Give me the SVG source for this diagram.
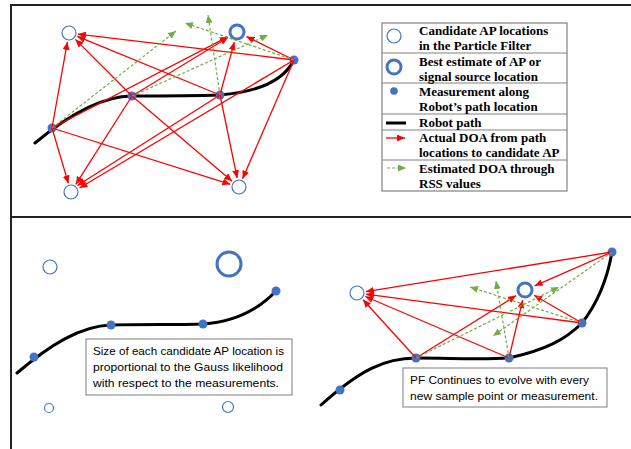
<svg xmlns="http://www.w3.org/2000/svg" width="631" height="449" viewBox="0 0 631 449">
<defs>
<marker id="ar" markerUnits="userSpaceOnUse" markerWidth="8" markerHeight="7" refX="8" refY="3.5" orient="auto"><path d="M0,0 L8,3.5 L0,7 z" fill="#ff0000"/></marker>
<marker id="ag" markerUnits="userSpaceOnUse" markerWidth="8" markerHeight="7" refX="8" refY="3.5" orient="auto"><path d="M0,0 L8,3.5 L0,7 z" fill="#70ad47"/></marker>
</defs>
<style>
.frame{stroke:#222;stroke-width:2;fill:none}
.path{stroke:#000;stroke-width:3;fill:none;stroke-linecap:round}
.cand{fill:#fff;stroke:#4472c4;stroke-width:1.2}
.best{fill:#fff;stroke:#4472c4;stroke-width:3}
.dot{fill:#4472c4}
.red{stroke:#ff0000;stroke-width:1.3;fill:none;marker-end:url(#ar)}
.grn{stroke:#70ad47;stroke-width:1.2;fill:none;stroke-dasharray:3 2;marker-end:url(#ag)}
.leg{font-family:"Liberation Serif","Times New Roman",serif;font-weight:bold;font-size:13px;fill:#000}
.box{fill:#fff;stroke:#7f7f7f;stroke-width:1}
.note{font-family:"Liberation Sans",Arial,sans-serif;font-size:11px;fill:#000}
</style>
<rect width="631" height="449" fill="#fff"/>
<g id="frame">
<line class="frame" x1="11" y1="5" x2="631" y2="5"/>
<line class="frame" x1="11" y1="4" x2="11" y2="449"/>
<line class="frame" x1="11" y1="217" x2="631" y2="217"/>
</g>

<!-- Top panel -->
<g id="top-path"><path class="path" d="M35,143 C65,118 100,96 132,96 C170,96 190,96 220,95 C258,92 284,80 294,60"/></g>
<g id="top-points">
<circle class="dot" cx="52" cy="128" r="4.5"/>
<circle class="dot" cx="132" cy="96" r="4.5"/>
<circle class="dot" cx="220" cy="95" r="4.5"/>
<circle class="dot" cx="294" cy="60" r="4.5"/>
</g>
<g id="top-candidates">
<circle id="tl" class="cand" cx="69" cy="33" r="7"/>
<circle id="best-top" class="best" cx="237" cy="32" r="7"/>
<circle id="bl" class="cand" cx="71" cy="192" r="7"/>
<circle id="br" class="cand" cx="239" cy="187" r="7"/>
</g>
<g id="top-connectors">
<line class="red" x1="52" y1="128" x2="67.4" y2="41.9"/>
<line class="red" x1="132" y1="96" x2="75.4" y2="39.4"/>
<line class="red" x1="220" y1="95" x2="77.3" y2="36.4"/>
<line class="red" x1="294" y1="60" x2="77.9" y2="34.1"/>
<line class="red" x1="52" y1="128" x2="227.7" y2="36.8"/>
<line class="red" x1="132" y1="96" x2="228" y2="37.5"/>
<line class="red" x1="220" y1="95" x2="234.3" y2="42.1"/>
<line class="red" x1="294" y1="60" x2="246.4" y2="36.6"/>
<line class="red" x1="52" y1="128" x2="68.4" y2="183.4"/>
<line class="red" x1="132" y1="96" x2="75.8" y2="184.4"/>
<line class="red" x1="220" y1="95" x2="77.5" y2="185.5"/>
<line class="red" x1="294" y1="60" x2="79.5" y2="188"/>
<line class="red" x1="52" y1="128" x2="230.4" y2="184.3"/>
<line class="red" x1="132" y1="96" x2="232.1" y2="181.2"/>
<line class="red" x1="220" y1="95" x2="237.2" y2="178.2"/>
<line class="red" x1="294" y1="60" x2="242.6" y2="178.7"/>
<line class="grn" x1="52" y1="128" x2="176" y2="31"/>
<line class="grn" x1="132" y1="96" x2="268" y2="35"/>
<line class="grn" x1="220" y1="95" x2="208" y2="15"/>
<line class="grn" x1="294" y1="60" x2="185" y2="23"/>
</g>

<!-- Legend -->
<g id="legend">
<rect x="382" y="23" width="185" height="168" fill="#fff" stroke="#808080" stroke-width="1.2"/>
<line x1="382" y1="53" x2="567" y2="53" stroke="#808080"/>
<line x1="382" y1="83" x2="567" y2="83" stroke="#808080"/>
<line x1="382" y1="114" x2="567" y2="114" stroke="#808080"/>
<line x1="382" y1="130" x2="567" y2="130" stroke="#808080"/>
<line x1="382" y1="160" x2="567" y2="160" stroke="#808080"/>
<circle class="cand" cx="394" cy="36" r="7"/>
<circle class="best" cx="394" cy="67" r="7"/>
<circle class="dot" cx="394" cy="91" r="3.8"/>
<line x1="386" y1="123" x2="406" y2="123" stroke="#000" stroke-width="3"/>
<line class="red" x1="386" y1="138" x2="405" y2="138"/>
<line class="grn" x1="387" y1="168" x2="406" y2="168"/>
<text class="leg" x="419" y="35">Candidate AP locations</text>
<text class="leg" x="419" y="50">in the Particle Filter</text>
<text class="leg" x="419" y="66">Best estimate of AP or</text>
<text class="leg" x="419" y="81">signal source location</text>
<text class="leg" x="419" y="96">Measurement along</text>
<text class="leg" x="419" y="111">Robot’s path location</text>
<text class="leg" x="419" y="127">Robot path</text>
<text class="leg" x="419" y="142">Actual DOA from path</text>
<text class="leg" x="419" y="157">locations to candidate AP</text>
<text class="leg" x="419" y="173">Estimated DOA through</text>
<text class="leg" x="419" y="188">RSS values</text>
</g>

<!-- Bottom left panel -->
<g id="bl-path"><path class="path" d="M17,373 C50,345 80,326 111,325 C150,324 175,325 203,324 C235,322 258,310 276,291"/></g>
<g id="bl-points">
<circle class="dot" cx="34" cy="357" r="4.5"/>
<circle class="dot" cx="111" cy="325" r="4.5"/>
<circle class="dot" cx="203" cy="324" r="4.5"/>
<circle class="dot" cx="276" cy="291" r="4.5"/>
</g>
<g id="bl-candidates">
<circle class="cand" cx="50" cy="267" r="7"/>
<circle class="best" cx="229" cy="264" r="12"/>
<circle class="cand" cx="49" cy="408" r="4.5"/>
<circle class="cand" cx="228" cy="407" r="5.5"/>
</g>
<g id="note-left">
<rect class="box" x="86" y="339" width="206" height="56"/>
<text class="note" x="93" y="355" textLength="191" lengthAdjust="spacingAndGlyphs">Size of each candidate AP location is</text>
<text class="note" x="93" y="371" textLength="190" lengthAdjust="spacingAndGlyphs">proportional to the Gauss likelihood</text>
<text class="note" x="93" y="387" textLength="186" lengthAdjust="spacingAndGlyphs">with respect to the measurements.</text>
</g>

<!-- Bottom right panel -->
<g id="br-path"><path class="path" d="M321,405 C360,370 385,358 416,358 C450,358 480,360 509,358 C545,350 565,340 582,323 C600,300 608,275 612,252"/></g>
<g id="br-points">
<circle class="dot" cx="340" cy="390" r="4.5"/>
<circle class="dot" cx="416" cy="358" r="4.5"/>
<circle class="dot" cx="509" cy="358" r="4.5"/>
<circle class="dot" cx="582" cy="323" r="4.5"/>
<circle class="dot" cx="612" cy="252" r="4.5"/>
</g>
<g id="br-candidates">
<circle class="cand" cx="357" cy="293" r="7"/>
<circle class="best" cx="525" cy="290" r="7"/>
</g>
<g id="br-connectors">
<line class="red" x1="416" y1="358" x2="363" y2="299.7"/>
<line class="red" x1="509" y1="358" x2="365.3" y2="296.5"/>
<line class="red" x1="582" y1="323" x2="365.9" y2="294.2"/>
<line class="red" x1="612" y1="252" x2="365.9" y2="291.6"/>
<line class="red" x1="416" y1="358" x2="516.1" y2="295.6"/>
<line class="red" x1="509" y1="358" x2="522.6" y2="300.2"/>
<line class="red" x1="582" y1="323" x2="534.1" y2="295.3"/>
<line class="red" x1="612" y1="252" x2="534.6" y2="285.8"/>
<line class="grn" x1="612" y1="252" x2="493" y2="336"/>
<line class="grn" x1="582" y1="323" x2="470" y2="287"/>
<line class="grn" x1="416" y1="358" x2="559" y2="287"/>
<line class="grn" x1="509" y1="358" x2="496" y2="281"/>
</g>
<g id="note-right">
<rect class="box" x="403" y="368" width="204" height="39"/>
<text class="note" x="410" y="384" textLength="179" lengthAdjust="spacingAndGlyphs">PF Continues to evolve with every</text>
<text class="note" x="410" y="400" textLength="188" lengthAdjust="spacingAndGlyphs">new sample point or measurement.</text>
</g>
</svg>
